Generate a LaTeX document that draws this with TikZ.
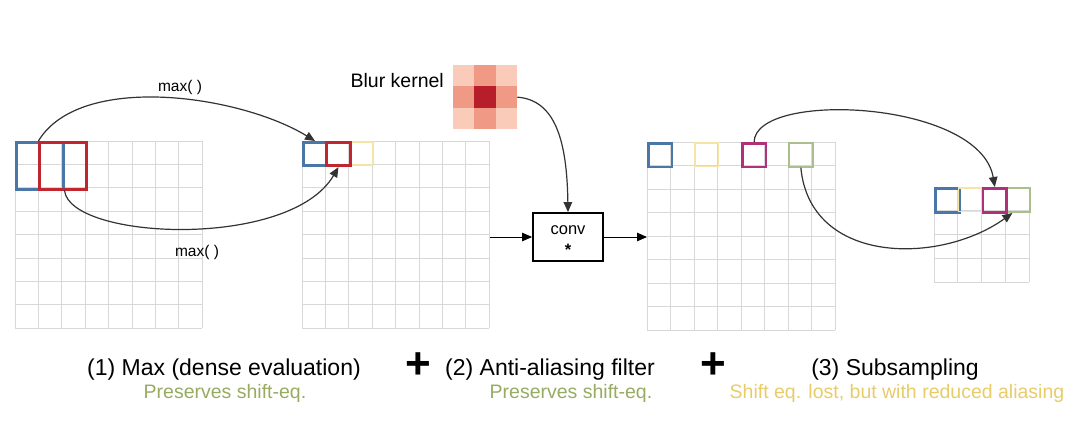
\documentclass[tikz,border=0pt]{standalone}
\usepackage{fontspec}
\setmainfont{Liberation Sans}
\usetikzlibrary{arrows.meta}
\definecolor{gridgray}{HTML}{D8D8D8}
\definecolor{wblue}{HTML}{4A76A8}
\definecolor{wred}{HTML}{C0262D}
\definecolor{wmag}{HTML}{B0307A}
\definecolor{wgreen}{HTML}{A9BF8E}
\definecolor{wyellow}{HTML}{F6E3A6}
\definecolor{arcgray}{HTML}{333333}
\definecolor{kcorner}{HTML}{F9CBB8}
\definecolor{kedge}{HTML}{F09A85}
\definecolor{kcenter}{HTML}{B81D2A}
\definecolor{txtgreen}{HTML}{97AB62}
\definecolor{txtyellow}{HTML}{E8CC6A}
\newcommand\drawpixgrid[4]{%
  \foreach \i in {0,...,#4}{%
    \draw[gridline] ({#1+\i*#3},{#2}) -- ({#1+\i*#3},{#2+#4*#3});
    \draw[gridline] ({#1},{#2+\i*#3}) -- ({#1+#4*#3},{#2+\i*#3});
  }}
\begin{document}
\begin{tikzpicture}[x=1pt,y=-1pt,
  gridline/.style={draw=gridgray,line width=0.9pt},
  gridarea/.style={inner sep=0pt,anchor=north west,draw=none},
  hbox/.style={draw=#1,line width=2.7pt,inner sep=0pt,anchor=north west,minimum size=23.4pt},
  arc/.style={draw=arcgray,line width=1.2pt,-{Triangle[length=10pt,width=8.5pt]}},
  arr/.style={draw=black,line width=1pt,-{Triangle[length=10pt,width=8.5pt]}},
  convbox/.style={draw=black,line width=1.8pt,minimum width=70pt,minimum height=48pt,inner sep=0pt,font=\fontsize{16.5}{20}\selectfont},
  maint/.style={anchor=base,font=\fontsize{23}{27}\selectfont},
  subt/.style={anchor=base,font=\fontsize{19.5}{23}\selectfont},
  smallt/.style={anchor=base,font=\fontsize{15.5}{18}\selectfont},
  plust/.style={font=\fontsize{44}{44}\selectfont\bfseries,inner sep=0pt}
]
\useasboundingbox[fill=white] (0,0) rectangle (1089,421);

% ---------- grids ----------
\drawpixgrid{15}{141}{23.4}{8}
\drawpixgrid{302}{141}{23.4}{8}
\drawpixgrid{647}{142}{23.5}{8}
\drawpixgrid{934}{187}{23.8}{4}
\node[gridarea,minimum width=187.2pt,minimum height=187.2pt] (G1) at (15,141) {};
\node[gridarea,minimum width=187.2pt,minimum height=187.2pt] (G2) at (302,141) {};
\node[gridarea,minimum width=188pt,minimum height=188pt] (G3) at (647,142) {};
\node[gridarea,minimum width=95.2pt,minimum height=95.2pt] (G4) at (934,187) {};

% ---------- highlighted windows ----------
\node[hbox=wblue,minimum size=46.8pt] (Lb) at (15,141) {};
\node[hbox=wred,minimum size=46.8pt] (Lr) at (38.4,141) {};
\node[hbox=wyellow,line width=1.6pt] (My) at (348.8,141) {};
\node[hbox=wblue] (Mb) at (302,141) {};
\node[hbox=wred] (Mr) at (325.4,141) {};

\node[hbox=wblue,minimum size=23.5pt] (Rb) at (647,142) {};
\node[hbox=wyellow,line width=1.6pt,minimum size=23.5pt] (Ry) at (694,142) {};
\node[hbox=wmag,minimum size=23.5pt] (Rm) at (741,142) {};
\node[hbox=wgreen,line width=2.2pt,minimum size=23.5pt] (Rg) at (788,142) {};

\node[hbox=wblue,minimum size=23.8pt] (Sb) at (934,187) {};
\node[hbox=wyellow,line width=1.6pt,minimum size=23.8pt] (Sy) at (957.8,187) {};
\node[hbox=wgreen,line width=2.2pt,minimum size=23.8pt] (Sg) at (1005.4,187) {};
\node[hbox=wmag,minimum size=23.8pt] (Sm) at (981.6,187) {};

% ---------- blur kernel ----------
\foreach \c/\r/\col in {0/0/kcorner,1/0/kedge,2/0/kcorner,0/1/kedge,1/1/kcenter,2/1/kedge,0/2/kcorner,1/2/kedge,2/2/kcorner}{
  \fill[\col] ({453+\c*21.3},{65+\r*21.3}) rectangle ++(21.3,21.3);
}
\node[gridarea,minimum width=63.9pt,minimum height=63.9pt] (K) at (453,65) {};
\node[anchor=east,font=\fontsize{19.5}{23}\selectfont,inner sep=0pt] (Kl) at (444,81) {Blur kernel};

% ---------- conv ----------
\node[convbox] (conv) at (568,237) {\raisebox{-4pt}[\height][\depth]{\begin{tabular}{@{}c@{}}conv\\[1pt]\textbf{*}\end{tabular}}};

% ---------- connectors ----------
\draw[arc] (Lr.north west) .. controls (80,72) and (240,95) .. (Mb.north);
\draw[arc] (Lb.south east) .. controls (70,240) and (290,250) .. (Mr.south);
\node[smallt] (m1) at (180,91) {max( )};
\node[smallt] (m2) at (197,256) {max( )};

\draw[arc] (K.east) .. controls (555,100) and (567,140) .. (conv.north);
\draw[arr] (G2.east |- conv.west) -- (conv.west);
\draw[arr] (conv.east) -- (conv.east -| G3.west);

\draw[arc] (Rm.north) .. controls (755,90) and (980,100) .. (Sm.north);
\draw[arc] (Rg.south) .. controls (810,265) and (940,265) .. ([xshift=-6pt]Sg.south);

% ---------- captions ----------
\node[maint] (t1) at (224,375) {(1) Max (dense evaluation)};
\node[plust] (p1) at (418,366) {+};
\node[maint] (t2) at (550,375) {(2) Anti-aliasing filter};
\node[plust] (p2) at (713,366) {+};
\node[maint] (t3) at (895,375) {(3) Subsampling};
\node[subt,text=txtgreen] (s1) at (225,398) {Preserves shift-eq.};
\node[subt,text=txtgreen] (s2) at (571,398) {Preserves shift-eq.};
\node[subt,text=txtyellow] (s3) at (897,398) {Shift eq. lost, but with reduced aliasing};
\end{tikzpicture}
\end{document}
